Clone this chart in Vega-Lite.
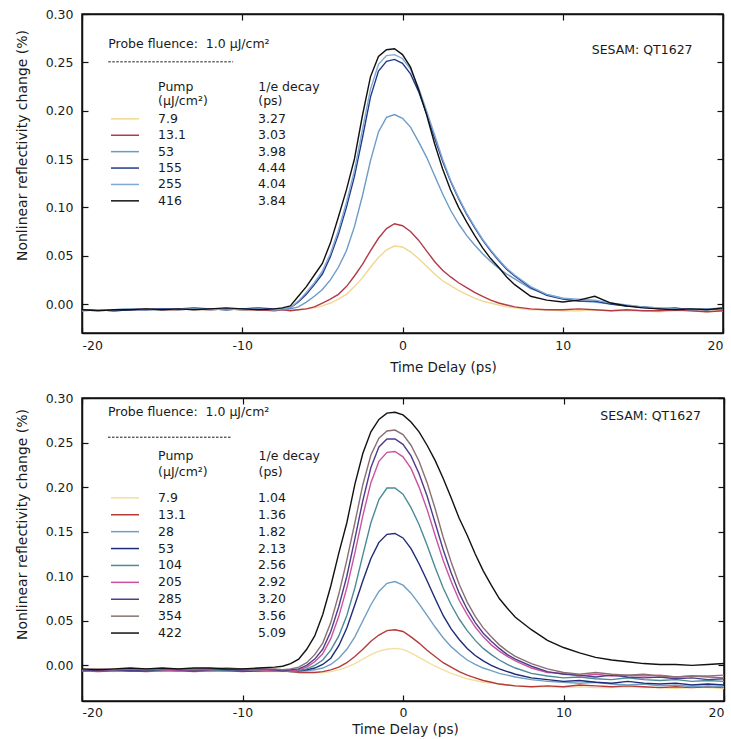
{
"$schema": "https://vega.github.io/schema/vega-lite/v6.json",
"padding": {"left": 14, "top": 7, "right": 4, "bottom": 4},
"background": "white",
"config": {
  "font": "DejaVu Sans",
  "view": {"stroke": "#111", "strokeWidth": 1.5},
  "axis": {"grid": false, "domainColor": "#111", "domainWidth": 1.5, "tickColor": "#111", "tickWidth": 1.2, "tickSize": -6, "labelColor": "#1a1a1a", "labelFontSize": 12.5, "labelFont": "DejaVu Sans", "titleFont": "DejaVu Sans", "titleFontWeight": "normal", "titleColor": "#1a1a1a", "titleFontSize": 13.5},
  "legend": {"orient": "none", "direction": "vertical", "padding": 0, "title": null, "labelFontSize": 12.5, "labelColor": "#1a1a1a", "labelLimit": 200, "symbolType": "M-3,0H3", "symbolSize": 87, "symbolStrokeWidth": 1.5, "symbolOffset": 0, "labelOffset": 26.75},
  "text": {"fontSize": 12.5, "color": "#1a1a1a", "font": "DejaVu Sans"}
},
"datasets": {
"top": [
{"p":"7.9","d":"3.27","t":-20,"v":-0.006},{"p":"7.9","d":"3.27","t":-19,"v":-0.006},{"p":"7.9","d":"3.27","t":-18,"v":-0.006},{"p":"7.9","d":"3.27","t":-17,"v":-0.005},{"p":"7.9","d":"3.27","t":-16,"v":-0.006},{"p":"7.9","d":"3.27","t":-15,"v":-0.006},{"p":"7.9","d":"3.27","t":-14,"v":-0.005},{"p":"7.9","d":"3.27","t":-13,"v":-0.006},{"p":"7.9","d":"3.27","t":-12,"v":-0.006},{"p":"7.9","d":"3.27","t":-11,"v":-0.005},{"p":"7.9","d":"3.27","t":-10,"v":-0.006},{"p":"7.9","d":"3.27","t":-9,"v":-0.006},{"p":"7.9","d":"3.27","t":-8,"v":-0.006},{"p":"7.9","d":"3.27","t":-7.5,"v":-0.006},{"p":"7.9","d":"3.27","t":-7,"v":-0.006},{"p":"7.9","d":"3.27","t":-6.5,"v":-0.006},{"p":"7.9","d":"3.27","t":-6,"v":-0.005},{"p":"7.9","d":"3.27","t":-5.5,"v":-0.004},{"p":"7.9","d":"3.27","t":-5,"v":-0.002},{"p":"7.9","d":"3.27","t":-4.5,"v":0.001},{"p":"7.9","d":"3.27","t":-4,"v":0.005},{"p":"7.9","d":"3.27","t":-3.5,"v":0.010},{"p":"7.9","d":"3.27","t":-3,"v":0.018},{"p":"7.9","d":"3.27","t":-2.5,"v":0.027},{"p":"7.9","d":"3.27","t":-2,"v":0.038},{"p":"7.9","d":"3.27","t":-1.5,"v":0.048},{"p":"7.9","d":"3.27","t":-1,"v":0.056},{"p":"7.9","d":"3.27","t":-0.5,"v":0.060},{"p":"7.9","d":"3.27","t":0,"v":0.059},{"p":"7.9","d":"3.27","t":0.5,"v":0.054},{"p":"7.9","d":"3.27","t":1,"v":0.047},{"p":"7.9","d":"3.27","t":1.5,"v":0.039},{"p":"7.9","d":"3.27","t":2,"v":0.031},{"p":"7.9","d":"3.27","t":2.5,"v":0.024},{"p":"7.9","d":"3.27","t":3,"v":0.019},{"p":"7.9","d":"3.27","t":3.5,"v":0.014},{"p":"7.9","d":"3.27","t":4,"v":0.010},{"p":"7.9","d":"3.27","t":4.5,"v":0.006},{"p":"7.9","d":"3.27","t":5,"v":0.003},{"p":"7.9","d":"3.27","t":5.5,"v":0.001},{"p":"7.9","d":"3.27","t":6,"v":-0.001},{"p":"7.9","d":"3.27","t":6.5,"v":-0.003},{"p":"7.9","d":"3.27","t":7,"v":-0.004},{"p":"7.9","d":"3.27","t":8,"v":-0.006},{"p":"7.9","d":"3.27","t":9,"v":-0.006},{"p":"7.9","d":"3.27","t":10,"v":-0.007},{"p":"7.9","d":"3.27","t":11,"v":-0.007},{"p":"7.9","d":"3.27","t":12,"v":-0.006},{"p":"7.9","d":"3.27","t":13,"v":-0.007},{"p":"7.9","d":"3.27","t":14,"v":-0.007},{"p":"7.9","d":"3.27","t":15,"v":-0.007},{"p":"7.9","d":"3.27","t":16,"v":-0.008},{"p":"7.9","d":"3.27","t":17,"v":-0.007},{"p":"7.9","d":"3.27","t":18,"v":-0.007},{"p":"7.9","d":"3.27","t":19,"v":-0.008},{"p":"7.9","d":"3.27","t":20,"v":-0.007},
{"p":"13.1","d":"3.03","t":-20,"v":-0.006},{"p":"13.1","d":"3.03","t":-19,"v":-0.006},{"p":"13.1","d":"3.03","t":-18,"v":-0.007},{"p":"13.1","d":"3.03","t":-17,"v":-0.006},{"p":"13.1","d":"3.03","t":-16,"v":-0.005},{"p":"13.1","d":"3.03","t":-15,"v":-0.006},{"p":"13.1","d":"3.03","t":-14,"v":-0.006},{"p":"13.1","d":"3.03","t":-13,"v":-0.005},{"p":"13.1","d":"3.03","t":-12,"v":-0.006},{"p":"13.1","d":"3.03","t":-11,"v":-0.005},{"p":"13.1","d":"3.03","t":-10,"v":-0.006},{"p":"13.1","d":"3.03","t":-9,"v":-0.006},{"p":"13.1","d":"3.03","t":-8,"v":-0.007},{"p":"13.1","d":"3.03","t":-7.5,"v":-0.006},{"p":"13.1","d":"3.03","t":-7,"v":-0.007},{"p":"13.1","d":"3.03","t":-6.5,"v":-0.006},{"p":"13.1","d":"3.03","t":-6,"v":-0.005},{"p":"13.1","d":"3.03","t":-5.5,"v":-0.003},{"p":"13.1","d":"3.03","t":-5,"v":0.001},{"p":"13.1","d":"3.03","t":-4.5,"v":0.005},{"p":"13.1","d":"3.03","t":-4,"v":0.010},{"p":"13.1","d":"3.03","t":-3.5,"v":0.018},{"p":"13.1","d":"3.03","t":-3,"v":0.029},{"p":"13.1","d":"3.03","t":-2.5,"v":0.041},{"p":"13.1","d":"3.03","t":-2,"v":0.055},{"p":"13.1","d":"3.03","t":-1.5,"v":0.068},{"p":"13.1","d":"3.03","t":-1,"v":0.078},{"p":"13.1","d":"3.03","t":-0.5,"v":0.083},{"p":"13.1","d":"3.03","t":0,"v":0.081},{"p":"13.1","d":"3.03","t":0.5,"v":0.075},{"p":"13.1","d":"3.03","t":1,"v":0.066},{"p":"13.1","d":"3.03","t":1.5,"v":0.055},{"p":"13.1","d":"3.03","t":2,"v":0.044},{"p":"13.1","d":"3.03","t":2.5,"v":0.035},{"p":"13.1","d":"3.03","t":3,"v":0.028},{"p":"13.1","d":"3.03","t":3.5,"v":0.022},{"p":"13.1","d":"3.03","t":4,"v":0.017},{"p":"13.1","d":"3.03","t":4.5,"v":0.012},{"p":"13.1","d":"3.03","t":5,"v":0.008},{"p":"13.1","d":"3.03","t":5.5,"v":0.004},{"p":"13.1","d":"3.03","t":6,"v":0.001},{"p":"13.1","d":"3.03","t":6.5,"v":-0.001},{"p":"13.1","d":"3.03","t":7,"v":-0.003},{"p":"13.1","d":"3.03","t":8,"v":-0.005},{"p":"13.1","d":"3.03","t":9,"v":-0.006},{"p":"13.1","d":"3.03","t":10,"v":-0.006},{"p":"13.1","d":"3.03","t":11,"v":-0.005},{"p":"13.1","d":"3.03","t":12,"v":-0.006},{"p":"13.1","d":"3.03","t":13,"v":-0.007},{"p":"13.1","d":"3.03","t":14,"v":-0.006},{"p":"13.1","d":"3.03","t":15,"v":-0.007},{"p":"13.1","d":"3.03","t":16,"v":-0.007},{"p":"13.1","d":"3.03","t":17,"v":-0.006},{"p":"13.1","d":"3.03","t":18,"v":-0.007},{"p":"13.1","d":"3.03","t":19,"v":-0.008},{"p":"13.1","d":"3.03","t":20,"v":-0.007},
{"p":"53","d":"3.98","t":-20,"v":-0.007},{"p":"53","d":"3.98","t":-19,"v":-0.006},{"p":"53","d":"3.98","t":-18,"v":-0.006},{"p":"53","d":"3.98","t":-17,"v":-0.005},{"p":"53","d":"3.98","t":-16,"v":-0.006},{"p":"53","d":"3.98","t":-15,"v":-0.005},{"p":"53","d":"3.98","t":-14,"v":-0.006},{"p":"53","d":"3.98","t":-13,"v":-0.005},{"p":"53","d":"3.98","t":-12,"v":-0.005},{"p":"53","d":"3.98","t":-11,"v":-0.006},{"p":"53","d":"3.98","t":-10,"v":-0.005},{"p":"53","d":"3.98","t":-9,"v":-0.005},{"p":"53","d":"3.98","t":-8,"v":-0.006},{"p":"53","d":"3.98","t":-7.5,"v":-0.006},{"p":"53","d":"3.98","t":-7,"v":-0.005},{"p":"53","d":"3.98","t":-6.5,"v":-0.003},{"p":"53","d":"3.98","t":-6,"v":0.002},{"p":"53","d":"3.98","t":-5.5,"v":0.008},{"p":"53","d":"3.98","t":-5,"v":0.015},{"p":"53","d":"3.98","t":-4.5,"v":0.025},{"p":"53","d":"3.98","t":-4,"v":0.038},{"p":"53","d":"3.98","t":-3.5,"v":0.055},{"p":"53","d":"3.98","t":-3,"v":0.080},{"p":"53","d":"3.98","t":-2.5,"v":0.112},{"p":"53","d":"3.98","t":-2,"v":0.148},{"p":"53","d":"3.98","t":-1.5,"v":0.178},{"p":"53","d":"3.98","t":-1,"v":0.193},{"p":"53","d":"3.98","t":-0.5,"v":0.196},{"p":"53","d":"3.98","t":0,"v":0.192},{"p":"53","d":"3.98","t":0.5,"v":0.183},{"p":"53","d":"3.98","t":1,"v":0.168},{"p":"53","d":"3.98","t":1.5,"v":0.152},{"p":"53","d":"3.98","t":2,"v":0.133},{"p":"53","d":"3.98","t":2.5,"v":0.114},{"p":"53","d":"3.98","t":3,"v":0.097},{"p":"53","d":"3.98","t":3.5,"v":0.083},{"p":"53","d":"3.98","t":4,"v":0.071},{"p":"53","d":"3.98","t":4.5,"v":0.061},{"p":"53","d":"3.98","t":5,"v":0.052},{"p":"53","d":"3.98","t":5.5,"v":0.044},{"p":"53","d":"3.98","t":6,"v":0.037},{"p":"53","d":"3.98","t":6.5,"v":0.031},{"p":"53","d":"3.98","t":7,"v":0.026},{"p":"53","d":"3.98","t":8,"v":0.016},{"p":"53","d":"3.98","t":9,"v":0.010},{"p":"53","d":"3.98","t":10,"v":0.006},{"p":"53","d":"3.98","t":11,"v":0.003},{"p":"53","d":"3.98","t":12,"v":0.002},{"p":"53","d":"3.98","t":13,"v":0.000},{"p":"53","d":"3.98","t":14,"v":-0.002},{"p":"53","d":"3.98","t":15,"v":-0.003},{"p":"53","d":"3.98","t":16,"v":-0.004},{"p":"53","d":"3.98","t":17,"v":-0.005},{"p":"53","d":"3.98","t":18,"v":-0.005},{"p":"53","d":"3.98","t":19,"v":-0.006},{"p":"53","d":"3.98","t":20,"v":-0.005},
{"p":"155","d":"4.44","t":-20,"v":-0.006},{"p":"155","d":"4.44","t":-19,"v":-0.006},{"p":"155","d":"4.44","t":-18,"v":-0.007},{"p":"155","d":"4.44","t":-17,"v":-0.006},{"p":"155","d":"4.44","t":-16,"v":-0.006},{"p":"155","d":"4.44","t":-15,"v":-0.005},{"p":"155","d":"4.44","t":-14,"v":-0.005},{"p":"155","d":"4.44","t":-13,"v":-0.004},{"p":"155","d":"4.44","t":-12,"v":-0.005},{"p":"155","d":"4.44","t":-11,"v":-0.006},{"p":"155","d":"4.44","t":-10,"v":-0.005},{"p":"155","d":"4.44","t":-9,"v":-0.004},{"p":"155","d":"4.44","t":-8,"v":-0.005},{"p":"155","d":"4.44","t":-7.5,"v":-0.005},{"p":"155","d":"4.44","t":-7,"v":-0.004},{"p":"155","d":"4.44","t":-6.5,"v":0.002},{"p":"155","d":"4.44","t":-6,"v":0.010},{"p":"155","d":"4.44","t":-5.5,"v":0.020},{"p":"155","d":"4.44","t":-5,"v":0.031},{"p":"155","d":"4.44","t":-4.5,"v":0.049},{"p":"155","d":"4.44","t":-4,"v":0.072},{"p":"155","d":"4.44","t":-3.5,"v":0.100},{"p":"155","d":"4.44","t":-3,"v":0.132},{"p":"155","d":"4.44","t":-2.5,"v":0.172},{"p":"155","d":"4.44","t":-2,"v":0.214},{"p":"155","d":"4.44","t":-1.5,"v":0.241},{"p":"155","d":"4.44","t":-1,"v":0.251},{"p":"155","d":"4.44","t":-0.5,"v":0.253},{"p":"155","d":"4.44","t":0,"v":0.249},{"p":"155","d":"4.44","t":0.5,"v":0.238},{"p":"155","d":"4.44","t":1,"v":0.220},{"p":"155","d":"4.44","t":1.5,"v":0.197},{"p":"155","d":"4.44","t":2,"v":0.172},{"p":"155","d":"4.44","t":2.5,"v":0.148},{"p":"155","d":"4.44","t":3,"v":0.127},{"p":"155","d":"4.44","t":3.5,"v":0.109},{"p":"155","d":"4.44","t":4,"v":0.093},{"p":"155","d":"4.44","t":4.5,"v":0.079},{"p":"155","d":"4.44","t":5,"v":0.066},{"p":"155","d":"4.44","t":5.5,"v":0.055},{"p":"155","d":"4.44","t":6,"v":0.045},{"p":"155","d":"4.44","t":6.5,"v":0.036},{"p":"155","d":"4.44","t":7,"v":0.029},{"p":"155","d":"4.44","t":8,"v":0.017},{"p":"155","d":"4.44","t":9,"v":0.009},{"p":"155","d":"4.44","t":10,"v":0.005},{"p":"155","d":"4.44","t":11,"v":0.003},{"p":"155","d":"4.44","t":12,"v":0.003},{"p":"155","d":"4.44","t":13,"v":0.000},{"p":"155","d":"4.44","t":14,"v":-0.002},{"p":"155","d":"4.44","t":15,"v":-0.003},{"p":"155","d":"4.44","t":16,"v":-0.005},{"p":"155","d":"4.44","t":17,"v":-0.004},{"p":"155","d":"4.44","t":18,"v":-0.006},{"p":"155","d":"4.44","t":19,"v":-0.005},{"p":"155","d":"4.44","t":20,"v":-0.005},
{"p":"255","d":"4.04","t":-20,"v":-0.007},{"p":"255","d":"4.04","t":-19,"v":-0.006},{"p":"255","d":"4.04","t":-18,"v":-0.006},{"p":"255","d":"4.04","t":-17,"v":-0.005},{"p":"255","d":"4.04","t":-16,"v":-0.006},{"p":"255","d":"4.04","t":-15,"v":-0.006},{"p":"255","d":"4.04","t":-14,"v":-0.005},{"p":"255","d":"4.04","t":-13,"v":-0.005},{"p":"255","d":"4.04","t":-12,"v":-0.006},{"p":"255","d":"4.04","t":-11,"v":-0.005},{"p":"255","d":"4.04","t":-10,"v":-0.006},{"p":"255","d":"4.04","t":-9,"v":-0.005},{"p":"255","d":"4.04","t":-8,"v":-0.006},{"p":"255","d":"4.04","t":-7.5,"v":-0.005},{"p":"255","d":"4.04","t":-7,"v":-0.004},{"p":"255","d":"4.04","t":-6.5,"v":0.003},{"p":"255","d":"4.04","t":-6,"v":0.012},{"p":"255","d":"4.04","t":-5.5,"v":0.022},{"p":"255","d":"4.04","t":-5,"v":0.034},{"p":"255","d":"4.04","t":-4.5,"v":0.052},{"p":"255","d":"4.04","t":-4,"v":0.076},{"p":"255","d":"4.04","t":-3.5,"v":0.105},{"p":"255","d":"4.04","t":-3,"v":0.138},{"p":"255","d":"4.04","t":-2.5,"v":0.180},{"p":"255","d":"4.04","t":-2,"v":0.222},{"p":"255","d":"4.04","t":-1.5,"v":0.248},{"p":"255","d":"4.04","t":-1,"v":0.257},{"p":"255","d":"4.04","t":-0.5,"v":0.258},{"p":"255","d":"4.04","t":0,"v":0.254},{"p":"255","d":"4.04","t":0.5,"v":0.243},{"p":"255","d":"4.04","t":1,"v":0.224},{"p":"255","d":"4.04","t":1.5,"v":0.200},{"p":"255","d":"4.04","t":2,"v":0.175},{"p":"255","d":"4.04","t":2.5,"v":0.150},{"p":"255","d":"4.04","t":3,"v":0.128},{"p":"255","d":"4.04","t":3.5,"v":0.110},{"p":"255","d":"4.04","t":4,"v":0.094},{"p":"255","d":"4.04","t":4.5,"v":0.080},{"p":"255","d":"4.04","t":5,"v":0.067},{"p":"255","d":"4.04","t":5.5,"v":0.056},{"p":"255","d":"4.04","t":6,"v":0.046},{"p":"255","d":"4.04","t":6.5,"v":0.037},{"p":"255","d":"4.04","t":7,"v":0.030},{"p":"255","d":"4.04","t":8,"v":0.018},{"p":"255","d":"4.04","t":9,"v":0.010},{"p":"255","d":"4.04","t":10,"v":0.006},{"p":"255","d":"4.04","t":11,"v":0.005},{"p":"255","d":"4.04","t":12,"v":0.004},{"p":"255","d":"4.04","t":13,"v":0.001},{"p":"255","d":"4.04","t":14,"v":-0.001},{"p":"255","d":"4.04","t":15,"v":-0.003},{"p":"255","d":"4.04","t":16,"v":-0.004},{"p":"255","d":"4.04","t":17,"v":-0.005},{"p":"255","d":"4.04","t":18,"v":-0.006},{"p":"255","d":"4.04","t":19,"v":-0.005},{"p":"255","d":"4.04","t":20,"v":-0.004},
{"p":"416","d":"3.84","t":-20,"v":-0.006},{"p":"416","d":"3.84","t":-19,"v":-0.007},{"p":"416","d":"3.84","t":-18,"v":-0.006},{"p":"416","d":"3.84","t":-17,"v":-0.006},{"p":"416","d":"3.84","t":-16,"v":-0.005},{"p":"416","d":"3.84","t":-15,"v":-0.006},{"p":"416","d":"3.84","t":-14,"v":-0.005},{"p":"416","d":"3.84","t":-13,"v":-0.006},{"p":"416","d":"3.84","t":-12,"v":-0.005},{"p":"416","d":"3.84","t":-11,"v":-0.004},{"p":"416","d":"3.84","t":-10,"v":-0.005},{"p":"416","d":"3.84","t":-9,"v":-0.006},{"p":"416","d":"3.84","t":-8,"v":-0.005},{"p":"416","d":"3.84","t":-7.5,"v":-0.004},{"p":"416","d":"3.84","t":-7,"v":-0.002},{"p":"416","d":"3.84","t":-6.5,"v":0.008},{"p":"416","d":"3.84","t":-6,"v":0.018},{"p":"416","d":"3.84","t":-5.5,"v":0.030},{"p":"416","d":"3.84","t":-5,"v":0.042},{"p":"416","d":"3.84","t":-4.5,"v":0.063},{"p":"416","d":"3.84","t":-4,"v":0.090},{"p":"416","d":"3.84","t":-3.5,"v":0.118},{"p":"416","d":"3.84","t":-3,"v":0.150},{"p":"416","d":"3.84","t":-2.5,"v":0.195},{"p":"416","d":"3.84","t":-2,"v":0.235},{"p":"416","d":"3.84","t":-1.5,"v":0.256},{"p":"416","d":"3.84","t":-1,"v":0.263},{"p":"416","d":"3.84","t":-0.5,"v":0.264},{"p":"416","d":"3.84","t":0,"v":0.258},{"p":"416","d":"3.84","t":0.5,"v":0.245},{"p":"416","d":"3.84","t":1,"v":0.222},{"p":"416","d":"3.84","t":1.5,"v":0.196},{"p":"416","d":"3.84","t":2,"v":0.166},{"p":"416","d":"3.84","t":2.5,"v":0.140},{"p":"416","d":"3.84","t":3,"v":0.118},{"p":"416","d":"3.84","t":3.5,"v":0.100},{"p":"416","d":"3.84","t":4,"v":0.085},{"p":"416","d":"3.84","t":4.5,"v":0.071},{"p":"416","d":"3.84","t":5,"v":0.058},{"p":"416","d":"3.84","t":5.5,"v":0.047},{"p":"416","d":"3.84","t":6,"v":0.038},{"p":"416","d":"3.84","t":6.5,"v":0.028},{"p":"416","d":"3.84","t":7,"v":0.020},{"p":"416","d":"3.84","t":8,"v":0.008},{"p":"416","d":"3.84","t":9,"v":0.004},{"p":"416","d":"3.84","t":10,"v":0.002},{"p":"416","d":"3.84","t":11,"v":0.004},{"p":"416","d":"3.84","t":12,"v":0.008},{"p":"416","d":"3.84","t":13,"v":0.001},{"p":"416","d":"3.84","t":14,"v":-0.002},{"p":"416","d":"3.84","t":15,"v":-0.004},{"p":"416","d":"3.84","t":16,"v":-0.005},{"p":"416","d":"3.84","t":17,"v":-0.006},{"p":"416","d":"3.84","t":18,"v":-0.005},{"p":"416","d":"3.84","t":19,"v":-0.006},{"p":"416","d":"3.84","t":20,"v":-0.004}
],
"bot": [
{"p":"7.9","d":"1.04","t":-20,"v":-0.006},{"p":"7.9","d":"1.04","t":-19,"v":-0.006},{"p":"7.9","d":"1.04","t":-18,"v":-0.007},{"p":"7.9","d":"1.04","t":-17,"v":-0.006},{"p":"7.9","d":"1.04","t":-16,"v":-0.006},{"p":"7.9","d":"1.04","t":-15,"v":-0.007},{"p":"7.9","d":"1.04","t":-14,"v":-0.006},{"p":"7.9","d":"1.04","t":-13,"v":-0.006},{"p":"7.9","d":"1.04","t":-12,"v":-0.007},{"p":"7.9","d":"1.04","t":-11,"v":-0.006},{"p":"7.9","d":"1.04","t":-10,"v":-0.006},{"p":"7.9","d":"1.04","t":-9,"v":-0.007},{"p":"7.9","d":"1.04","t":-8,"v":-0.007},{"p":"7.9","d":"1.04","t":-7.5,"v":-0.007},{"p":"7.9","d":"1.04","t":-7,"v":-0.007},{"p":"7.9","d":"1.04","t":-6.5,"v":-0.008},{"p":"7.9","d":"1.04","t":-6,"v":-0.008},{"p":"7.9","d":"1.04","t":-5.5,"v":-0.008},{"p":"7.9","d":"1.04","t":-5,"v":-0.008},{"p":"7.9","d":"1.04","t":-4.5,"v":-0.007},{"p":"7.9","d":"1.04","t":-4,"v":-0.005},{"p":"7.9","d":"1.04","t":-3.5,"v":-0.002},{"p":"7.9","d":"1.04","t":-3,"v":0.002},{"p":"7.9","d":"1.04","t":-2.5,"v":0.007},{"p":"7.9","d":"1.04","t":-2,"v":0.012},{"p":"7.9","d":"1.04","t":-1.5,"v":0.016},{"p":"7.9","d":"1.04","t":-1,"v":0.018},{"p":"7.9","d":"1.04","t":-0.5,"v":0.019},{"p":"7.9","d":"1.04","t":0,"v":0.018},{"p":"7.9","d":"1.04","t":0.5,"v":0.014},{"p":"7.9","d":"1.04","t":1,"v":0.009},{"p":"7.9","d":"1.04","t":1.5,"v":0.004},{"p":"7.9","d":"1.04","t":2,"v":-0.001},{"p":"7.9","d":"1.04","t":2.5,"v":-0.005},{"p":"7.9","d":"1.04","t":3,"v":-0.009},{"p":"7.9","d":"1.04","t":3.5,"v":-0.012},{"p":"7.9","d":"1.04","t":4,"v":-0.015},{"p":"7.9","d":"1.04","t":4.5,"v":-0.017},{"p":"7.9","d":"1.04","t":5,"v":-0.019},{"p":"7.9","d":"1.04","t":5.5,"v":-0.020},{"p":"7.9","d":"1.04","t":6,"v":-0.021},{"p":"7.9","d":"1.04","t":6.5,"v":-0.022},{"p":"7.9","d":"1.04","t":7,"v":-0.023},{"p":"7.9","d":"1.04","t":8,"v":-0.024},{"p":"7.9","d":"1.04","t":9,"v":-0.024},{"p":"7.9","d":"1.04","t":10,"v":-0.025},{"p":"7.9","d":"1.04","t":11,"v":-0.024},{"p":"7.9","d":"1.04","t":12,"v":-0.025},{"p":"7.9","d":"1.04","t":13,"v":-0.025},{"p":"7.9","d":"1.04","t":14,"v":-0.024},{"p":"7.9","d":"1.04","t":15,"v":-0.025},{"p":"7.9","d":"1.04","t":16,"v":-0.025},{"p":"7.9","d":"1.04","t":17,"v":-0.026},{"p":"7.9","d":"1.04","t":18,"v":-0.025},{"p":"7.9","d":"1.04","t":19,"v":-0.025},{"p":"7.9","d":"1.04","t":20,"v":-0.026},
{"p":"13.1","d":"1.36","t":-20,"v":-0.006},{"p":"13.1","d":"1.36","t":-19,"v":-0.007},{"p":"13.1","d":"1.36","t":-18,"v":-0.006},{"p":"13.1","d":"1.36","t":-17,"v":-0.006},{"p":"13.1","d":"1.36","t":-16,"v":-0.007},{"p":"13.1","d":"1.36","t":-15,"v":-0.006},{"p":"13.1","d":"1.36","t":-14,"v":-0.006},{"p":"13.1","d":"1.36","t":-13,"v":-0.007},{"p":"13.1","d":"1.36","t":-12,"v":-0.006},{"p":"13.1","d":"1.36","t":-11,"v":-0.006},{"p":"13.1","d":"1.36","t":-10,"v":-0.007},{"p":"13.1","d":"1.36","t":-9,"v":-0.006},{"p":"13.1","d":"1.36","t":-8,"v":-0.006},{"p":"13.1","d":"1.36","t":-7.5,"v":-0.006},{"p":"13.1","d":"1.36","t":-7,"v":-0.007},{"p":"13.1","d":"1.36","t":-6.5,"v":-0.008},{"p":"13.1","d":"1.36","t":-6,"v":-0.008},{"p":"13.1","d":"1.36","t":-5.5,"v":-0.008},{"p":"13.1","d":"1.36","t":-5,"v":-0.007},{"p":"13.1","d":"1.36","t":-4.5,"v":-0.005},{"p":"13.1","d":"1.36","t":-4,"v":-0.002},{"p":"13.1","d":"1.36","t":-3.5,"v":0.003},{"p":"13.1","d":"1.36","t":-3,"v":0.010},{"p":"13.1","d":"1.36","t":-2.5,"v":0.018},{"p":"13.1","d":"1.36","t":-2,"v":0.027},{"p":"13.1","d":"1.36","t":-1.5,"v":0.034},{"p":"13.1","d":"1.36","t":-1,"v":0.039},{"p":"13.1","d":"1.36","t":-0.5,"v":0.040},{"p":"13.1","d":"1.36","t":0,"v":0.038},{"p":"13.1","d":"1.36","t":0.5,"v":0.032},{"p":"13.1","d":"1.36","t":1,"v":0.025},{"p":"13.1","d":"1.36","t":1.5,"v":0.017},{"p":"13.1","d":"1.36","t":2,"v":0.010},{"p":"13.1","d":"1.36","t":2.5,"v":0.003},{"p":"13.1","d":"1.36","t":3,"v":-0.002},{"p":"13.1","d":"1.36","t":3.5,"v":-0.007},{"p":"13.1","d":"1.36","t":4,"v":-0.011},{"p":"13.1","d":"1.36","t":4.5,"v":-0.014},{"p":"13.1","d":"1.36","t":5,"v":-0.017},{"p":"13.1","d":"1.36","t":5.5,"v":-0.019},{"p":"13.1","d":"1.36","t":6,"v":-0.021},{"p":"13.1","d":"1.36","t":6.5,"v":-0.022},{"p":"13.1","d":"1.36","t":7,"v":-0.023},{"p":"13.1","d":"1.36","t":8,"v":-0.024},{"p":"13.1","d":"1.36","t":9,"v":-0.023},{"p":"13.1","d":"1.36","t":10,"v":-0.024},{"p":"13.1","d":"1.36","t":11,"v":-0.022},{"p":"13.1","d":"1.36","t":12,"v":-0.023},{"p":"13.1","d":"1.36","t":13,"v":-0.024},{"p":"13.1","d":"1.36","t":14,"v":-0.023},{"p":"13.1","d":"1.36","t":15,"v":-0.024},{"p":"13.1","d":"1.36","t":16,"v":-0.025},{"p":"13.1","d":"1.36","t":17,"v":-0.024},{"p":"13.1","d":"1.36","t":18,"v":-0.025},{"p":"13.1","d":"1.36","t":19,"v":-0.024},{"p":"13.1","d":"1.36","t":20,"v":-0.025},
{"p":"28","d":"1.82","t":-20,"v":-0.006},{"p":"28","d":"1.82","t":-19,"v":-0.006},{"p":"28","d":"1.82","t":-18,"v":-0.005},{"p":"28","d":"1.82","t":-17,"v":-0.006},{"p":"28","d":"1.82","t":-16,"v":-0.006},{"p":"28","d":"1.82","t":-15,"v":-0.006},{"p":"28","d":"1.82","t":-14,"v":-0.005},{"p":"28","d":"1.82","t":-13,"v":-0.006},{"p":"28","d":"1.82","t":-12,"v":-0.006},{"p":"28","d":"1.82","t":-11,"v":-0.005},{"p":"28","d":"1.82","t":-10,"v":-0.006},{"p":"28","d":"1.82","t":-9,"v":-0.005},{"p":"28","d":"1.82","t":-8,"v":-0.006},{"p":"28","d":"1.82","t":-7.5,"v":-0.006},{"p":"28","d":"1.82","t":-7,"v":-0.007},{"p":"28","d":"1.82","t":-6.5,"v":-0.007},{"p":"28","d":"1.82","t":-6,"v":-0.006},{"p":"28","d":"1.82","t":-5.5,"v":-0.005},{"p":"28","d":"1.82","t":-5,"v":-0.003},{"p":"28","d":"1.82","t":-4.5,"v":0.001},{"p":"28","d":"1.82","t":-4,"v":0.008},{"p":"28","d":"1.82","t":-3.5,"v":0.018},{"p":"28","d":"1.82","t":-3,"v":0.032},{"p":"28","d":"1.82","t":-2.5,"v":0.050},{"p":"28","d":"1.82","t":-2,"v":0.068},{"p":"28","d":"1.82","t":-1.5,"v":0.083},{"p":"28","d":"1.82","t":-1,"v":0.092},{"p":"28","d":"1.82","t":-0.5,"v":0.094},{"p":"28","d":"1.82","t":0,"v":0.090},{"p":"28","d":"1.82","t":0.5,"v":0.081},{"p":"28","d":"1.82","t":1,"v":0.069},{"p":"28","d":"1.82","t":1.5,"v":0.056},{"p":"28","d":"1.82","t":2,"v":0.043},{"p":"28","d":"1.82","t":2.5,"v":0.031},{"p":"28","d":"1.82","t":3,"v":0.021},{"p":"28","d":"1.82","t":3.5,"v":0.013},{"p":"28","d":"1.82","t":4,"v":0.006},{"p":"28","d":"1.82","t":4.5,"v":0.001},{"p":"28","d":"1.82","t":5,"v":-0.003},{"p":"28","d":"1.82","t":5.5,"v":-0.006},{"p":"28","d":"1.82","t":6,"v":-0.009},{"p":"28","d":"1.82","t":6.5,"v":-0.011},{"p":"28","d":"1.82","t":7,"v":-0.013},{"p":"28","d":"1.82","t":8,"v":-0.016},{"p":"28","d":"1.82","t":9,"v":-0.018},{"p":"28","d":"1.82","t":10,"v":-0.019},{"p":"28","d":"1.82","t":11,"v":-0.020},{"p":"28","d":"1.82","t":12,"v":-0.019},{"p":"28","d":"1.82","t":13,"v":-0.021},{"p":"28","d":"1.82","t":14,"v":-0.022},{"p":"28","d":"1.82","t":15,"v":-0.021},{"p":"28","d":"1.82","t":16,"v":-0.023},{"p":"28","d":"1.82","t":17,"v":-0.022},{"p":"28","d":"1.82","t":18,"v":-0.024},{"p":"28","d":"1.82","t":19,"v":-0.023},{"p":"28","d":"1.82","t":20,"v":-0.024},
{"p":"53","d":"2.13","t":-20,"v":-0.005},{"p":"53","d":"2.13","t":-19,"v":-0.006},{"p":"53","d":"2.13","t":-18,"v":-0.005},{"p":"53","d":"2.13","t":-17,"v":-0.006},{"p":"53","d":"2.13","t":-16,"v":-0.006},{"p":"53","d":"2.13","t":-15,"v":-0.005},{"p":"53","d":"2.13","t":-14,"v":-0.005},{"p":"53","d":"2.13","t":-13,"v":-0.006},{"p":"53","d":"2.13","t":-12,"v":-0.005},{"p":"53","d":"2.13","t":-11,"v":-0.005},{"p":"53","d":"2.13","t":-10,"v":-0.006},{"p":"53","d":"2.13","t":-9,"v":-0.006},{"p":"53","d":"2.13","t":-8,"v":-0.005},{"p":"53","d":"2.13","t":-7.5,"v":-0.006},{"p":"53","d":"2.13","t":-7,"v":-0.006},{"p":"53","d":"2.13","t":-6.5,"v":-0.006},{"p":"53","d":"2.13","t":-6,"v":-0.005},{"p":"53","d":"2.13","t":-5.5,"v":-0.003},{"p":"53","d":"2.13","t":-5,"v":0.001},{"p":"53","d":"2.13","t":-4.5,"v":0.008},{"p":"53","d":"2.13","t":-4,"v":0.022},{"p":"53","d":"2.13","t":-3.5,"v":0.042},{"p":"53","d":"2.13","t":-3,"v":0.068},{"p":"53","d":"2.13","t":-2.5,"v":0.095},{"p":"53","d":"2.13","t":-2,"v":0.120},{"p":"53","d":"2.13","t":-1.5,"v":0.138},{"p":"53","d":"2.13","t":-1,"v":0.147},{"p":"53","d":"2.13","t":-0.5,"v":0.148},{"p":"53","d":"2.13","t":0,"v":0.143},{"p":"53","d":"2.13","t":0.5,"v":0.131},{"p":"53","d":"2.13","t":1,"v":0.114},{"p":"53","d":"2.13","t":1.5,"v":0.095},{"p":"53","d":"2.13","t":2,"v":0.075},{"p":"53","d":"2.13","t":2.5,"v":0.056},{"p":"53","d":"2.13","t":3,"v":0.041},{"p":"53","d":"2.13","t":3.5,"v":0.029},{"p":"53","d":"2.13","t":4,"v":0.019},{"p":"53","d":"2.13","t":4.5,"v":0.011},{"p":"53","d":"2.13","t":5,"v":0.005},{"p":"53","d":"2.13","t":5.5,"v":0.000},{"p":"53","d":"2.13","t":6,"v":-0.004},{"p":"53","d":"2.13","t":6.5,"v":-0.007},{"p":"53","d":"2.13","t":7,"v":-0.010},{"p":"53","d":"2.13","t":8,"v":-0.014},{"p":"53","d":"2.13","t":9,"v":-0.016},{"p":"53","d":"2.13","t":10,"v":-0.018},{"p":"53","d":"2.13","t":11,"v":-0.017},{"p":"53","d":"2.13","t":12,"v":-0.019},{"p":"53","d":"2.13","t":13,"v":-0.020},{"p":"53","d":"2.13","t":14,"v":-0.018},{"p":"53","d":"2.13","t":15,"v":-0.020},{"p":"53","d":"2.13","t":16,"v":-0.021},{"p":"53","d":"2.13","t":17,"v":-0.020},{"p":"53","d":"2.13","t":18,"v":-0.022},{"p":"53","d":"2.13","t":19,"v":-0.021},{"p":"53","d":"2.13","t":20,"v":-0.022},
{"p":"104","d":"2.56","t":-20,"v":-0.006},{"p":"104","d":"2.56","t":-19,"v":-0.005},{"p":"104","d":"2.56","t":-18,"v":-0.006},{"p":"104","d":"2.56","t":-17,"v":-0.006},{"p":"104","d":"2.56","t":-16,"v":-0.005},{"p":"104","d":"2.56","t":-15,"v":-0.005},{"p":"104","d":"2.56","t":-14,"v":-0.006},{"p":"104","d":"2.56","t":-13,"v":-0.004},{"p":"104","d":"2.56","t":-12,"v":-0.005},{"p":"104","d":"2.56","t":-11,"v":-0.006},{"p":"104","d":"2.56","t":-10,"v":-0.005},{"p":"104","d":"2.56","t":-9,"v":-0.006},{"p":"104","d":"2.56","t":-8,"v":-0.006},{"p":"104","d":"2.56","t":-7.5,"v":-0.006},{"p":"104","d":"2.56","t":-7,"v":-0.007},{"p":"104","d":"2.56","t":-6.5,"v":-0.006},{"p":"104","d":"2.56","t":-6,"v":-0.004},{"p":"104","d":"2.56","t":-5.5,"v":0.000},{"p":"104","d":"2.56","t":-5,"v":0.006},{"p":"104","d":"2.56","t":-4.5,"v":0.017},{"p":"104","d":"2.56","t":-4,"v":0.033},{"p":"104","d":"2.56","t":-3.5,"v":0.056},{"p":"104","d":"2.56","t":-3,"v":0.087},{"p":"104","d":"2.56","t":-2.5,"v":0.124},{"p":"104","d":"2.56","t":-2,"v":0.160},{"p":"104","d":"2.56","t":-1.5,"v":0.186},{"p":"104","d":"2.56","t":-1,"v":0.199},{"p":"104","d":"2.56","t":-0.5,"v":0.199},{"p":"104","d":"2.56","t":0,"v":0.192},{"p":"104","d":"2.56","t":0.5,"v":0.177},{"p":"104","d":"2.56","t":1,"v":0.158},{"p":"104","d":"2.56","t":1.5,"v":0.135},{"p":"104","d":"2.56","t":2,"v":0.110},{"p":"104","d":"2.56","t":2.5,"v":0.087},{"p":"104","d":"2.56","t":3,"v":0.068},{"p":"104","d":"2.56","t":3.5,"v":0.052},{"p":"104","d":"2.56","t":4,"v":0.039},{"p":"104","d":"2.56","t":4.5,"v":0.028},{"p":"104","d":"2.56","t":5,"v":0.019},{"p":"104","d":"2.56","t":5.5,"v":0.012},{"p":"104","d":"2.56","t":6,"v":0.006},{"p":"104","d":"2.56","t":6.5,"v":0.001},{"p":"104","d":"2.56","t":7,"v":-0.003},{"p":"104","d":"2.56","t":8,"v":-0.009},{"p":"104","d":"2.56","t":9,"v":-0.012},{"p":"104","d":"2.56","t":10,"v":-0.014},{"p":"104","d":"2.56","t":11,"v":-0.013},{"p":"104","d":"2.56","t":12,"v":-0.015},{"p":"104","d":"2.56","t":13,"v":-0.016},{"p":"104","d":"2.56","t":14,"v":-0.014},{"p":"104","d":"2.56","t":15,"v":-0.016},{"p":"104","d":"2.56","t":16,"v":-0.017},{"p":"104","d":"2.56","t":17,"v":-0.016},{"p":"104","d":"2.56","t":18,"v":-0.018},{"p":"104","d":"2.56","t":19,"v":-0.017},{"p":"104","d":"2.56","t":20,"v":-0.018},
{"p":"205","d":"2.92","t":-20,"v":-0.005},{"p":"205","d":"2.92","t":-19,"v":-0.006},{"p":"205","d":"2.92","t":-18,"v":-0.005},{"p":"205","d":"2.92","t":-17,"v":-0.005},{"p":"205","d":"2.92","t":-16,"v":-0.004},{"p":"205","d":"2.92","t":-15,"v":-0.005},{"p":"205","d":"2.92","t":-14,"v":-0.006},{"p":"205","d":"2.92","t":-13,"v":-0.005},{"p":"205","d":"2.92","t":-12,"v":-0.005},{"p":"205","d":"2.92","t":-11,"v":-0.004},{"p":"205","d":"2.92","t":-10,"v":-0.005},{"p":"205","d":"2.92","t":-9,"v":-0.005},{"p":"205","d":"2.92","t":-8,"v":-0.006},{"p":"205","d":"2.92","t":-7.5,"v":-0.006},{"p":"205","d":"2.92","t":-7,"v":-0.006},{"p":"205","d":"2.92","t":-6.5,"v":-0.005},{"p":"205","d":"2.92","t":-6,"v":-0.002},{"p":"205","d":"2.92","t":-5.5,"v":0.004},{"p":"205","d":"2.92","t":-5,"v":0.013},{"p":"205","d":"2.92","t":-4.5,"v":0.030},{"p":"205","d":"2.92","t":-4,"v":0.055},{"p":"205","d":"2.92","t":-3.5,"v":0.087},{"p":"205","d":"2.92","t":-3,"v":0.126},{"p":"205","d":"2.92","t":-2.5,"v":0.168},{"p":"205","d":"2.92","t":-2,"v":0.205},{"p":"205","d":"2.92","t":-1.5,"v":0.229},{"p":"205","d":"2.92","t":-1,"v":0.239},{"p":"205","d":"2.92","t":-0.5,"v":0.240},{"p":"205","d":"2.92","t":0,"v":0.234},{"p":"205","d":"2.92","t":0.5,"v":0.221},{"p":"205","d":"2.92","t":1,"v":0.200},{"p":"205","d":"2.92","t":1.5,"v":0.175},{"p":"205","d":"2.92","t":2,"v":0.146},{"p":"205","d":"2.92","t":2.5,"v":0.118},{"p":"205","d":"2.92","t":3,"v":0.094},{"p":"205","d":"2.92","t":3.5,"v":0.073},{"p":"205","d":"2.92","t":4,"v":0.057},{"p":"205","d":"2.92","t":4.5,"v":0.043},{"p":"205","d":"2.92","t":5,"v":0.032},{"p":"205","d":"2.92","t":5.5,"v":0.023},{"p":"205","d":"2.92","t":6,"v":0.016},{"p":"205","d":"2.92","t":6.5,"v":0.010},{"p":"205","d":"2.92","t":7,"v":0.005},{"p":"205","d":"2.92","t":8,"v":-0.003},{"p":"205","d":"2.92","t":9,"v":-0.008},{"p":"205","d":"2.92","t":10,"v":-0.009},{"p":"205","d":"2.92","t":11,"v":-0.012},{"p":"205","d":"2.92","t":12,"v":-0.010},{"p":"205","d":"2.92","t":13,"v":-0.012},{"p":"205","d":"2.92","t":14,"v":-0.011},{"p":"205","d":"2.92","t":15,"v":-0.012},{"p":"205","d":"2.92","t":16,"v":-0.011},{"p":"205","d":"2.92","t":17,"v":-0.013},{"p":"205","d":"2.92","t":18,"v":-0.012},{"p":"205","d":"2.92","t":19,"v":-0.012},{"p":"205","d":"2.92","t":20,"v":-0.011},
{"p":"285","d":"3.20","t":-20,"v":-0.006},{"p":"285","d":"3.20","t":-19,"v":-0.005},{"p":"285","d":"3.20","t":-18,"v":-0.005},{"p":"285","d":"3.20","t":-17,"v":-0.006},{"p":"285","d":"3.20","t":-16,"v":-0.005},{"p":"285","d":"3.20","t":-15,"v":-0.004},{"p":"285","d":"3.20","t":-14,"v":-0.005},{"p":"285","d":"3.20","t":-13,"v":-0.005},{"p":"285","d":"3.20","t":-12,"v":-0.004},{"p":"285","d":"3.20","t":-11,"v":-0.005},{"p":"285","d":"3.20","t":-10,"v":-0.005},{"p":"285","d":"3.20","t":-9,"v":-0.004},{"p":"285","d":"3.20","t":-8,"v":-0.005},{"p":"285","d":"3.20","t":-7.5,"v":-0.006},{"p":"285","d":"3.20","t":-7,"v":-0.005},{"p":"285","d":"3.20","t":-6.5,"v":-0.004},{"p":"285","d":"3.20","t":-6,"v":0.000},{"p":"285","d":"3.20","t":-5.5,"v":0.007},{"p":"285","d":"3.20","t":-5,"v":0.018},{"p":"285","d":"3.20","t":-4.5,"v":0.038},{"p":"285","d":"3.20","t":-4,"v":0.066},{"p":"285","d":"3.20","t":-3.5,"v":0.100},{"p":"285","d":"3.20","t":-3,"v":0.142},{"p":"285","d":"3.20","t":-2.5,"v":0.185},{"p":"285","d":"3.20","t":-2,"v":0.222},{"p":"285","d":"3.20","t":-1.5,"v":0.245},{"p":"285","d":"3.20","t":-1,"v":0.254},{"p":"285","d":"3.20","t":-0.5,"v":0.254},{"p":"285","d":"3.20","t":0,"v":0.248},{"p":"285","d":"3.20","t":0.5,"v":0.235},{"p":"285","d":"3.20","t":1,"v":0.215},{"p":"285","d":"3.20","t":1.5,"v":0.190},{"p":"285","d":"3.20","t":2,"v":0.160},{"p":"285","d":"3.20","t":2.5,"v":0.130},{"p":"285","d":"3.20","t":3,"v":0.104},{"p":"285","d":"3.20","t":3.5,"v":0.081},{"p":"285","d":"3.20","t":4,"v":0.063},{"p":"285","d":"3.20","t":4.5,"v":0.048},{"p":"285","d":"3.20","t":5,"v":0.036},{"p":"285","d":"3.20","t":5.5,"v":0.027},{"p":"285","d":"3.20","t":6,"v":0.019},{"p":"285","d":"3.20","t":6.5,"v":0.012},{"p":"285","d":"3.20","t":7,"v":0.007},{"p":"285","d":"3.20","t":8,"v":-0.001},{"p":"285","d":"3.20","t":9,"v":-0.007},{"p":"285","d":"3.20","t":10,"v":-0.010},{"p":"285","d":"3.20","t":11,"v":-0.011},{"p":"285","d":"3.20","t":12,"v":-0.013},{"p":"285","d":"3.20","t":13,"v":-0.011},{"p":"285","d":"3.20","t":14,"v":-0.013},{"p":"285","d":"3.20","t":15,"v":-0.014},{"p":"285","d":"3.20","t":16,"v":-0.013},{"p":"285","d":"3.20","t":17,"v":-0.015},{"p":"285","d":"3.20","t":18,"v":-0.014},{"p":"285","d":"3.20","t":19,"v":-0.016},{"p":"285","d":"3.20","t":20,"v":-0.015},
{"p":"354","d":"3.56","t":-20,"v":-0.005},{"p":"354","d":"3.56","t":-19,"v":-0.004},{"p":"354","d":"3.56","t":-18,"v":-0.005},{"p":"354","d":"3.56","t":-17,"v":-0.004},{"p":"354","d":"3.56","t":-16,"v":-0.005},{"p":"354","d":"3.56","t":-15,"v":-0.004},{"p":"354","d":"3.56","t":-14,"v":-0.004},{"p":"354","d":"3.56","t":-13,"v":-0.005},{"p":"354","d":"3.56","t":-12,"v":-0.004},{"p":"354","d":"3.56","t":-11,"v":-0.003},{"p":"354","d":"3.56","t":-10,"v":-0.004},{"p":"354","d":"3.56","t":-9,"v":-0.004},{"p":"354","d":"3.56","t":-8,"v":-0.004},{"p":"354","d":"3.56","t":-7.5,"v":-0.005},{"p":"354","d":"3.56","t":-7,"v":-0.004},{"p":"354","d":"3.56","t":-6.5,"v":-0.002},{"p":"354","d":"3.56","t":-6,"v":0.003},{"p":"354","d":"3.56","t":-5.5,"v":0.012},{"p":"354","d":"3.56","t":-5,"v":0.025},{"p":"354","d":"3.56","t":-4.5,"v":0.048},{"p":"354","d":"3.56","t":-4,"v":0.080},{"p":"354","d":"3.56","t":-3.5,"v":0.118},{"p":"354","d":"3.56","t":-3,"v":0.160},{"p":"354","d":"3.56","t":-2.5,"v":0.203},{"p":"354","d":"3.56","t":-2,"v":0.236},{"p":"354","d":"3.56","t":-1.5,"v":0.255},{"p":"354","d":"3.56","t":-1,"v":0.263},{"p":"354","d":"3.56","t":-0.5,"v":0.264},{"p":"354","d":"3.56","t":0,"v":0.259},{"p":"354","d":"3.56","t":0.5,"v":0.247},{"p":"354","d":"3.56","t":1,"v":0.229},{"p":"354","d":"3.56","t":1.5,"v":0.205},{"p":"354","d":"3.56","t":2,"v":0.176},{"p":"354","d":"3.56","t":2.5,"v":0.144},{"p":"354","d":"3.56","t":3,"v":0.116},{"p":"354","d":"3.56","t":3.5,"v":0.091},{"p":"354","d":"3.56","t":4,"v":0.071},{"p":"354","d":"3.56","t":4.5,"v":0.055},{"p":"354","d":"3.56","t":5,"v":0.042},{"p":"354","d":"3.56","t":5.5,"v":0.032},{"p":"354","d":"3.56","t":6,"v":0.023},{"p":"354","d":"3.56","t":6.5,"v":0.016},{"p":"354","d":"3.56","t":7,"v":0.010},{"p":"354","d":"3.56","t":8,"v":0.002},{"p":"354","d":"3.56","t":9,"v":-0.004},{"p":"354","d":"3.56","t":10,"v":-0.008},{"p":"354","d":"3.56","t":11,"v":-0.010},{"p":"354","d":"3.56","t":12,"v":-0.008},{"p":"354","d":"3.56","t":13,"v":-0.010},{"p":"354","d":"3.56","t":14,"v":-0.011},{"p":"354","d":"3.56","t":15,"v":-0.010},{"p":"354","d":"3.56","t":16,"v":-0.012},{"p":"354","d":"3.56","t":17,"v":-0.013},{"p":"354","d":"3.56","t":18,"v":-0.012},{"p":"354","d":"3.56","t":19,"v":-0.013},{"p":"354","d":"3.56","t":20,"v":-0.014},
{"p":"422","d":"5.09","t":-20,"v":-0.004},{"p":"422","d":"5.09","t":-19,"v":-0.005},{"p":"422","d":"5.09","t":-18,"v":-0.004},{"p":"422","d":"5.09","t":-17,"v":-0.003},{"p":"422","d":"5.09","t":-16,"v":-0.004},{"p":"422","d":"5.09","t":-15,"v":-0.003},{"p":"422","d":"5.09","t":-14,"v":-0.004},{"p":"422","d":"5.09","t":-13,"v":-0.003},{"p":"422","d":"5.09","t":-12,"v":-0.003},{"p":"422","d":"5.09","t":-11,"v":-0.004},{"p":"422","d":"5.09","t":-10,"v":-0.004},{"p":"422","d":"5.09","t":-9,"v":-0.003},{"p":"422","d":"5.09","t":-8,"v":-0.002},{"p":"422","d":"5.09","t":-7.5,"v":-0.001},{"p":"422","d":"5.09","t":-7,"v":0.002},{"p":"422","d":"5.09","t":-6.5,"v":0.007},{"p":"422","d":"5.09","t":-6,"v":0.018},{"p":"422","d":"5.09","t":-5.5,"v":0.033},{"p":"422","d":"5.09","t":-5,"v":0.057},{"p":"422","d":"5.09","t":-4.5,"v":0.089},{"p":"422","d":"5.09","t":-4,"v":0.126},{"p":"422","d":"5.09","t":-3.5,"v":0.160},{"p":"422","d":"5.09","t":-3,"v":0.203},{"p":"422","d":"5.09","t":-2.5,"v":0.238},{"p":"422","d":"5.09","t":-2,"v":0.262},{"p":"422","d":"5.09","t":-1.5,"v":0.276},{"p":"422","d":"5.09","t":-1,"v":0.283},{"p":"422","d":"5.09","t":-0.5,"v":0.284},{"p":"422","d":"5.09","t":0,"v":0.281},{"p":"422","d":"5.09","t":0.5,"v":0.273},{"p":"422","d":"5.09","t":1,"v":0.262},{"p":"422","d":"5.09","t":1.5,"v":0.247},{"p":"422","d":"5.09","t":2,"v":0.230},{"p":"422","d":"5.09","t":2.5,"v":0.210},{"p":"422","d":"5.09","t":3,"v":0.188},{"p":"422","d":"5.09","t":3.5,"v":0.165},{"p":"422","d":"5.09","t":4,"v":0.146},{"p":"422","d":"5.09","t":4.5,"v":0.125},{"p":"422","d":"5.09","t":5,"v":0.106},{"p":"422","d":"5.09","t":5.5,"v":0.090},{"p":"422","d":"5.09","t":6,"v":0.075},{"p":"422","d":"5.09","t":6.5,"v":0.064},{"p":"422","d":"5.09","t":7,"v":0.054},{"p":"422","d":"5.09","t":8,"v":0.040},{"p":"422","d":"5.09","t":9,"v":0.028},{"p":"422","d":"5.09","t":10,"v":0.020},{"p":"422","d":"5.09","t":11,"v":0.014},{"p":"422","d":"5.09","t":12,"v":0.009},{"p":"422","d":"5.09","t":13,"v":0.006},{"p":"422","d":"5.09","t":14,"v":0.004},{"p":"422","d":"5.09","t":15,"v":0.002},{"p":"422","d":"5.09","t":16,"v":0.001},{"p":"422","d":"5.09","t":17,"v":0.001},{"p":"422","d":"5.09","t":18,"v":0.000},{"p":"422","d":"5.09","t":19,"v":0.001},{"p":"422","d":"5.09","t":20,"v":0.002}
]
},
"vconcat": [
{
  "width": 641, "height": 319,
  "layer": [
    {
      "layer": [
        {
          "data": {"name": "top"},
          "mark": {"type": "line", "strokeWidth": 1.4},
          "encoding": {
            "x": {"field": "t", "type": "quantitative", "scale": {"domain": [-20, 20], "nice": false, "zero": false},
                  "axis": {"values": [-20, -10, 0, 10, 20], "labelExpr": "'' + datum.value", "labelPadding": 12, "title": "Time Delay (ps)", "titleX": 361, "titleY": 34, "titleBaseline": "middle", "titleAlign": "center"}},
            "y": {"field": "v", "type": "quantitative", "scale": {"domain": [-0.03, 0.30], "nice": false, "zero": false},
                  "axis": {"values": [0, 0.05, 0.1, 0.15, 0.2, 0.25, 0.3], "format": ".2f", "labelPadding": 15, "title": "Nonlinear reflectivity change (%)", "titleFontSize": 14, "titleX": -60, "titleY": 131, "titleBaseline": "middle", "titleAlign": "center"}},
            "color": {"field": "p", "type": "nominal",
                      "scale": {"domain": ["7.9", "13.1", "53", "155", "255", "416"], "range": ["#f0d890", "#b23a48", "#6b9bc8", "#233a8c", "#7fa9d3", "#111111"]},
                      "legend": {"legendX": 36.75, "legendY": 98.6, "rowPadding": 3.4}},
            "opacity": {"field": "d", "type": "ordinal",
                      "scale": {"domain": ["3.27", "3.03", "3.98", "4.44", "4.04", "3.84"], "range": [1, 1]},
                      "legend": {"legendX": 136.75, "legendY": 98.6, "rowPadding": 3.4, "symbolOpacity": 0, "symbolStrokeWidth": 0}}
          }
        },
        {
          "data": {"values": [{}]},
          "mark": {"type": "text", "align": "left", "baseline": "middle"},
          "encoding": {
            "x": {"datum": -18.36, "type": "quantitative", "scale": {"domain": [-20, 20], "nice": false, "zero": false}},
            "y": {"datum": 0.269, "type": "quantitative", "scale": {"domain": [-0.03, 0.30], "nice": false, "zero": false}},
            "text": {"value": "Probe fluence:\u00a0 1.0 μJ/cm²"}
          }
        },
        {
          "data": {"values": [{}]},
          "mark": {"type": "rule", "strokeDash": [2.5, 1.5], "strokeWidth": 1, "color": "#1a1a1a"},
          "encoding": {
            "x": {"datum": -18.36, "type": "quantitative", "scale": {"domain": [-20, 20], "nice": false, "zero": false}},
            "x2": {"datum": -10.57},
            "y": {"datum": 0.2505, "type": "quantitative", "scale": {"domain": [-0.03, 0.30], "nice": false, "zero": false}}
          }
        },
        {
          "data": {"values": [{}]},
          "mark": {"type": "text", "align": "left", "baseline": "middle"},
          "encoding": {
            "x": {"datum": -15.25, "type": "quantitative", "scale": {"domain": [-20, 20], "nice": false, "zero": false}},
            "y": {"datum": 0.2246, "type": "quantitative", "scale": {"domain": [-0.03, 0.30], "nice": false, "zero": false}},
            "text": {"value": "Pump"}
          }
        },
        {
          "data": {"values": [{}]},
          "mark": {"type": "text", "align": "left", "baseline": "middle"},
          "encoding": {
            "x": {"datum": -15.25, "type": "quantitative", "scale": {"domain": [-20, 20], "nice": false, "zero": false}},
            "y": {"datum": 0.2105, "type": "quantitative", "scale": {"domain": [-0.03, 0.30], "nice": false, "zero": false}},
            "text": {"value": "(μJ/cm²)"}
          }
        },
        {
          "data": {"values": [{}]},
          "mark": {"type": "text", "align": "left", "baseline": "middle"},
          "encoding": {
            "x": {"datum": -9.0, "type": "quantitative", "scale": {"domain": [-20, 20], "nice": false, "zero": false}},
            "y": {"datum": 0.2246, "type": "quantitative", "scale": {"domain": [-0.03, 0.30], "nice": false, "zero": false}},
            "text": {"value": "1/e decay"}
          }
        },
        {
          "data": {"values": [{}]},
          "mark": {"type": "text", "align": "left", "baseline": "middle"},
          "encoding": {
            "x": {"datum": -9.0, "type": "quantitative", "scale": {"domain": [-20, 20], "nice": false, "zero": false}},
            "y": {"datum": 0.2105, "type": "quantitative", "scale": {"domain": [-0.03, 0.30], "nice": false, "zero": false}},
            "text": {"value": "(ps)"}
          }
        }
      ]
    },
    {
      "data": {"values": [{}]},
      "mark": {"type": "text", "align": "right", "baseline": "middle"},
      "encoding": {
        "x": {"datum": 18.1, "type": "quantitative", "scale": {"domain": [-20, 20], "nice": false, "zero": false},
              "axis": {"orient": "top", "values": [-20, -10, 0, 10, 20], "labels": false, "title": null}},
        "y": {"datum": 0.263, "type": "quantitative", "scale": {"domain": [-0.03, 0.30], "nice": false, "zero": false},
              "axis": {"orient": "right", "values": [0, 0.05, 0.1, 0.15, 0.2, 0.25, 0.3], "labels": false, "title": null}},
        "text": {"value": "SESAM: QT1627"}
      }
    }
  ],
  "resolve": {"scale": {"x": "independent", "y": "independent"}}
},
{
  "width": 642, "height": 303,
  "layer": [
    {
      "layer": [
        {
          "data": {"name": "bot"},
          "mark": {"type": "line", "strokeWidth": 1.4},
          "encoding": {
            "x": {"field": "t", "type": "quantitative", "scale": {"domain": [-20, 20], "nice": false, "zero": false},
                  "axis": {"values": [-20, -10, 0, 10, 20], "labelExpr": "'' + datum.value", "labelPadding": 11, "title": "Time Delay (ps)", "titleX": 323, "titleY": 28, "titleBaseline": "middle", "titleAlign": "center"}},
            "y": {"field": "v", "type": "quantitative", "scale": {"domain": [-0.04, 0.30], "nice": false, "zero": false},
                  "axis": {"values": [0, 0.05, 0.1, 0.15, 0.2, 0.25, 0.3], "format": ".2f", "labelPadding": 15, "title": "Nonlinear reflectivity change (%)", "titleFontSize": 14, "titleX": -60, "titleY": 126, "titleBaseline": "middle", "titleAlign": "center"}},
            "color": {"field": "p", "type": "nominal",
                      "scale": {"domain": ["7.9", "13.1", "28", "53", "104", "205", "285", "354", "422"], "range": ["#f2dfa0", "#b53a3a", "#6f9fc4", "#1f2a78", "#4c8b96", "#c8549e", "#503c8c", "#8a7070", "#111111"]},
                      "legend": {"legendX": 36.75, "legendY": 93.6, "rowPadding": 3.9}},
            "opacity": {"field": "d", "type": "ordinal",
                      "scale": {"domain": ["1.04", "1.36", "1.82", "2.13", "2.56", "2.92", "3.20", "3.56", "5.09"], "range": [1, 1]},
                      "legend": {"legendX": 136.75, "legendY": 93.6, "rowPadding": 3.9, "symbolOpacity": 0, "symbolStrokeWidth": 0}}
          }
        },
        {
          "data": {"values": [{}]},
          "mark": {"type": "text", "align": "left", "baseline": "middle"},
          "encoding": {
            "x": {"datum": -18.38, "type": "quantitative", "scale": {"domain": [-20, 20], "nice": false, "zero": false}},
            "y": {"datum": 0.284, "type": "quantitative", "scale": {"domain": [-0.04, 0.30], "nice": false, "zero": false}},
            "text": {"value": "Probe fluence:\u00a0 1.0 μJ/cm²"}
          }
        },
        {
          "data": {"values": [{}]},
          "mark": {"type": "rule", "strokeDash": [2.5, 1.5], "strokeWidth": 1, "color": "#1a1a1a"},
          "encoding": {
            "x": {"datum": -18.38, "type": "quantitative", "scale": {"domain": [-20, 20], "nice": false, "zero": false}},
            "x2": {"datum": -10.67},
            "y": {"datum": 0.256, "type": "quantitative", "scale": {"domain": [-0.04, 0.30], "nice": false, "zero": false}}
          }
        },
        {
          "data": {"values": [{}]},
          "mark": {"type": "text", "align": "left", "baseline": "middle"},
          "encoding": {
            "x": {"datum": -15.26, "type": "quantitative", "scale": {"domain": [-20, 20], "nice": false, "zero": false}},
            "y": {"datum": 0.2346, "type": "quantitative", "scale": {"domain": [-0.04, 0.30], "nice": false, "zero": false}},
            "text": {"value": "Pump"}
          }
        },
        {
          "data": {"values": [{}]},
          "mark": {"type": "text", "align": "left", "baseline": "middle"},
          "encoding": {
            "x": {"datum": -15.26, "type": "quantitative", "scale": {"domain": [-20, 20], "nice": false, "zero": false}},
            "y": {"datum": 0.2165, "type": "quantitative", "scale": {"domain": [-0.04, 0.30], "nice": false, "zero": false}},
            "text": {"value": "(μJ/cm²)"}
          }
        },
        {
          "data": {"values": [{}]},
          "mark": {"type": "text", "align": "left", "baseline": "middle"},
          "encoding": {
            "x": {"datum": -9.0, "type": "quantitative", "scale": {"domain": [-20, 20], "nice": false, "zero": false}},
            "y": {"datum": 0.2346, "type": "quantitative", "scale": {"domain": [-0.04, 0.30], "nice": false, "zero": false}},
            "text": {"value": "1/e decay"}
          }
        },
        {
          "data": {"values": [{}]},
          "mark": {"type": "text", "align": "left", "baseline": "middle"},
          "encoding": {
            "x": {"datum": -9.0, "type": "quantitative", "scale": {"domain": [-20, 20], "nice": false, "zero": false}},
            "y": {"datum": 0.2165, "type": "quantitative", "scale": {"domain": [-0.04, 0.30], "nice": false, "zero": false}},
            "text": {"value": "(ps)"}
          }
        }
      ]
    },
    {
      "data": {"values": [{}]},
      "mark": {"type": "text", "align": "right", "baseline": "middle"},
      "encoding": {
        "x": {"datum": 18.57, "type": "quantitative", "scale": {"domain": [-20, 20], "nice": false, "zero": false},
              "axis": {"orient": "top", "values": [-20, -10, 0, 10, 20], "labels": false, "title": null}},
        "y": {"datum": 0.28, "type": "quantitative", "scale": {"domain": [-0.04, 0.30], "nice": false, "zero": false},
              "axis": {"orient": "right", "values": [0, 0.05, 0.1, 0.15, 0.2, 0.25, 0.3], "labels": false, "title": null}},
        "text": {"value": "SESAM: QT1627"}
      }
    }
  ],
  "resolve": {"scale": {"x": "independent", "y": "independent"}}
}
],
"spacing": 65,
"bounds": "flush",
"resolve": {"scale": {"color": "independent", "opacity": "independent"}, "legend": {"color": "independent", "opacity": "independent"}}
}
